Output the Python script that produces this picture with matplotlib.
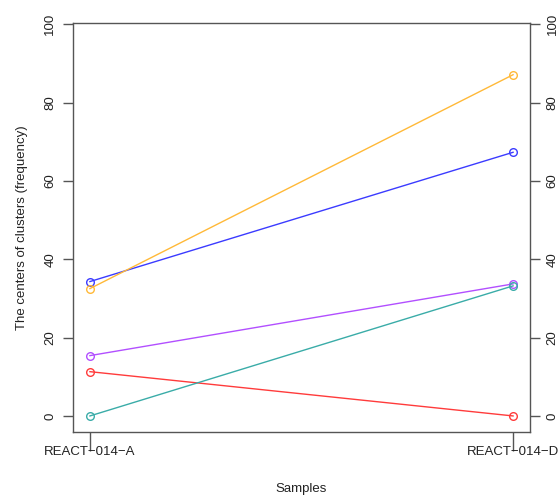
import matplotlib
matplotlib.use("Agg")
import matplotlib.pyplot as plt

samples = ["REACT\u2212014\u2212A", "REACT\u2212014\u2212D"]
x_pos = [1, 2]
series_names = ["blue", "orange", "purple", "red", "teal"]
series_values = {
    "blue": [34.3, 67.3],
    "orange": [32.5, 87.1],
    "purple": [15.4, 33.7],
    "red": [11.3, 0.0],
    "teal": [0.0, 33.2],
}
series_colors = {
    "blue": "#3b3bff",
    "orange": "#ffb938",
    "purple": "#b24fff",
    "red": "#ff3b3b",
    "teal": "#3aaca8",
}
y_ticks = [0, 20, 40, 60, 80, 100]

plt.rcParams["font.family"] = ["Liberation Sans", "DejaVu Sans"]

fig = plt.figure(figsize=(5.6, 4.96), dpi=100)
ax = fig.add_axes([73 / 560, 1 - 432 / 496, (530 - 73) / 560, (432 - 23) / 496])

for name in series_names:
    ax.plot(x_pos, series_values[name], color=series_colors[name], lw=1.0,
            marker="o", markersize=5.5, markerfacecolor="none",
            markeredgewidth=1.0)

ax.set_xlim(0.96, 2.04)
ax.set_ylim(-4.1, 100.3)

for side in ["left", "right", "top", "bottom"]:
    ax.spines[side].set_color("#555555")
    ax.spines[side].set_linewidth(1.0)

ax.set_xticks(x_pos)
ax.set_xticklabels(samples, fontsize=9.5, color="#222222")
ax.tick_params(axis="x", length=14, width=1.0, color="#555555", pad=-4)

ax.set_yticks(y_ticks)
ax.set_yticklabels([str(v) for v in y_ticks], fontsize=9.5, color="#222222",
                   rotation=90, va="center")
ax.tick_params(axis="y", which="both", left=True, right=True, labelleft=True,
               labelright=True, length=7, width=1.0, color="#555555", pad=6)
for lbl in ax.get_yticklabels(which="both"):
    lbl.set_rotation(90)
    lbl.set_va("center")
# longer ticks on the left side, like the reference
for t in ax.yaxis.get_major_ticks():
    t.tick1line.set_markersize(7.2)
    t.tick2line.set_markersize(5.0)
    t.set_pad(5)

ax.set_xlabel("Samples", fontsize=9.5, color="#222222", labelpad=18)
ax.set_ylabel("The centers of clusters (frequency)", fontsize=9.5,
              color="#222222", labelpad=12)

fig.savefig("out.png", dpi=100)
